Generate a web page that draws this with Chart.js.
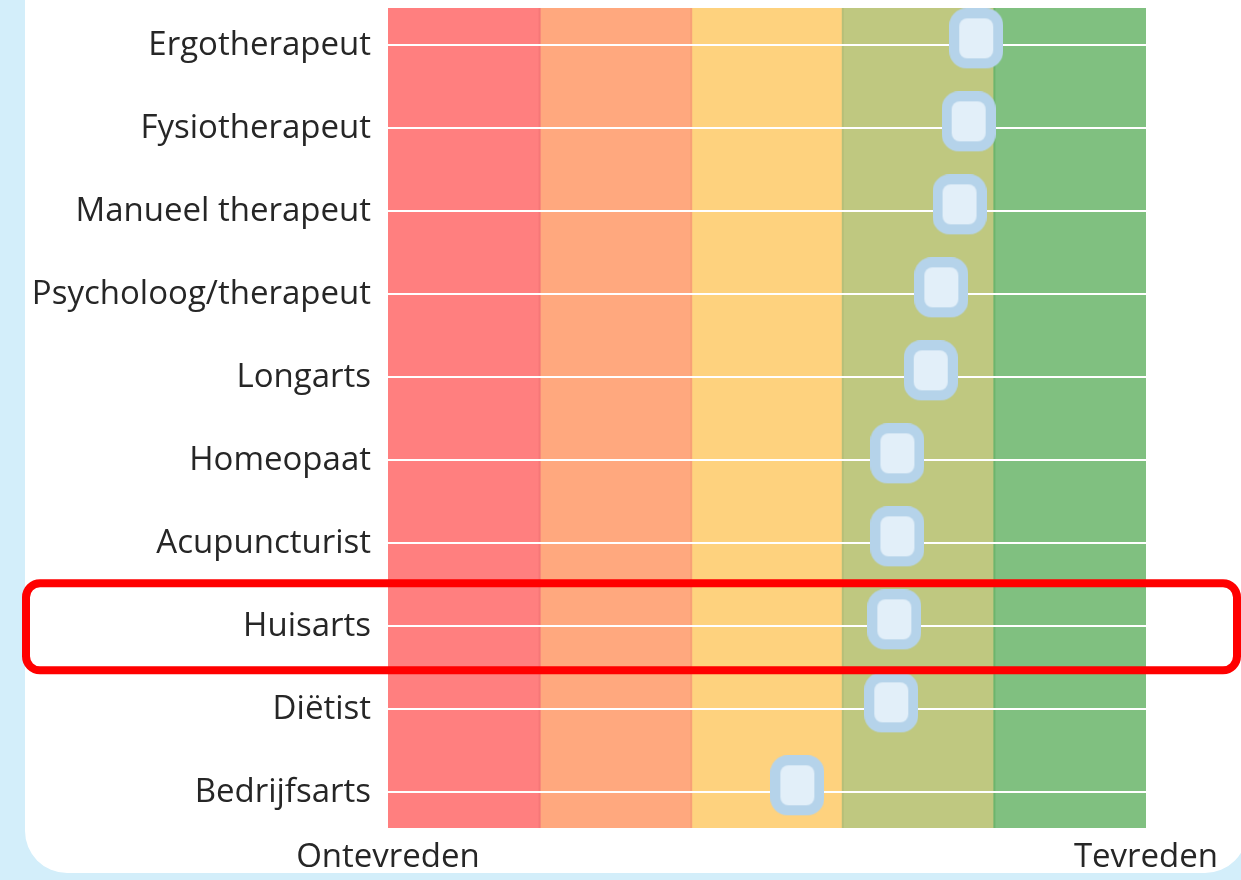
<!DOCTYPE html>
<html lang="nl">
<head>
  <meta charset="UTF-8">
  <title>Tevredenheid zorgverleners</title>
  <script src="https://cdn.jsdelivr.net/npm/chart.js"></script>
  <style>
    html, body { margin: 0; padding: 0; }
    body { width: 1241px; height: 880px; background: #d3eefa; overflow: hidden; position: relative; font-family: 'Open Sans', sans-serif; }
    .card { position: absolute; left: 25px; top: -60px; width: 1222px; height: 933px; background: #fff; border-radius: 42px; }
    .chart-box { position: absolute; left: 0; top: 0; width: 1241px; height: 880px; }
  </style>
</head>
<body>
  <div class="card"></div>
  <div class="chart-box">
    <canvas id="scoreChart" width="1241" height="880"></canvas>
  </div>

  <script>
    // data
    const categories = ['Ergotherapeut', 'Fysiotherapeut', 'Manueel therapeut', 'Psycholoog/therapeut', 'Longarts',
                        'Homeopaat', 'Acupuncturist', 'Huisarts', 'Diëtist', 'Bedrijfsarts'];
    const scores = [3.88, 3.83, 3.77, 3.65, 3.58, 3.36, 3.36, 3.34, 3.32, 2.70];
    const xTickLabels = ['Ontevreden', 'Tevreden'];
    const bandEdges = [0, 1, 2, 3, 4, 5];
    const bandColors = ['#ff7f7f', '#ffa87e', '#fed27e', '#bfc880', '#80c080'];
    const bandBorders = ['#f57777', '#f8a077', '#f3c672', '#b6bf78', '#6cb56c'];
    const highlighted = 'Huisarts';

    // punt als afgeronde rechthoek (iets boven de lijn, zoals in het origineel)
    const marker = document.createElement('canvas');
    marker.width = 54;
    marker.height = 74;
    const mctx = marker.getContext('2d');
    mctx.fillStyle = '#b5d3ea';
    mctx.beginPath();
    mctx.roundRect(0, 0, 54, 60, 17);
    mctx.fill();
    mctx.fillStyle = '#e2eff9';
    mctx.beginPath();
    mctx.roundRect(10, 10, 34, 40, 8);
    mctx.fill();

    const bandsPlugin = {
      id: 'bands',
      beforeDraw(chart) {
        const { ctx, chartArea, scales } = chart;
        ctx.save();
        for (let i = 0; i < bandColors.length; i++) {
          const x0 = scales.x.getPixelForValue(bandEdges[i]);
          const x1 = scales.x.getPixelForValue(bandEdges[i + 1]);
          ctx.fillStyle = bandColors[i];
          ctx.fillRect(x0, chartArea.top, x1 - x0, chartArea.bottom - chartArea.top);
          if (i > 0) {
            ctx.fillStyle = i >= 3 ? bandBorders[i] : bandBorders[i - 1];
            ctx.fillRect(x0 - 1, chartArea.top, 2, chartArea.bottom - chartArea.top);
          }
        }
        ctx.restore();
      }
    };

    const highlightPlugin = {
      id: 'highlight',
      afterDraw(chart) {
        const { ctx, scales } = chart;
        const y = scales.y.getPixelForValue(categories.indexOf(highlighted));
        ctx.save();
        ctx.strokeStyle = '#ff0000';
        ctx.lineWidth = 8;
        ctx.beginPath();
        ctx.roundRect(26, y - 43, 1211, 87, 14);
        ctx.stroke();
        ctx.restore();
      }
    };

    const ctx = document.getElementById('scoreChart').getContext('2d');
    new Chart(ctx, {
      type: 'scatter',
      data: {
        datasets: [{
          data: scores.map((v, i) => ({ x: v, y: i })),
          pointStyle: marker,
          pointRadius: 27,
          pointHoverRadius: 27
        }]
      },
      options: {
        responsive: false,
        animation: false,
        layout: { autoPadding: false, padding: { left: 0, right: 95, top: 8, bottom: 0 } },
        plugins: {
          legend: { display: false },
          tooltip: { enabled: false }
        },
        scales: {
          x: {
            type: 'linear',
            min: 0,
            max: 5,
            afterBuildTicks: (scale) => { scale.ticks = [{ value: 0 }, { value: 5 }]; },
            afterFit: (scale) => { scale.height = 52; scale.paddingLeft = 0; scale.paddingRight = 0; },
            grid: { display: false },
            border: { display: false },
            ticks: {
              callback: (value) => value === 0 ? xTickLabels[0] : xTickLabels[1],
              color: '#262626',
              font: { family: 'Open Sans', size: 33 },
              padding: 2,
              maxRotation: 0
            }
          },
          y: {
            type: 'linear',
            reverse: true,
            min: -0.45,
            max: 9.43,
            afterBuildTicks: (scale) => { scale.ticks = categories.map((c, i) => ({ value: i })); },
            afterFit: (scale) => { scale.width = 388; scale.paddingTop = 0; scale.paddingBottom = 0; },
            grid: { color: '#ffffff', lineWidth: 2, drawTicks: false },
            border: { display: false },
            ticks: {
              callback: (value) => categories[value],
              color: '#262626',
              font: { family: 'Open Sans', size: 33 },
              padding: 17
            }
          }
        }
      },
      plugins: [bandsPlugin, highlightPlugin]
    });
  </script>
</body>
</html>
